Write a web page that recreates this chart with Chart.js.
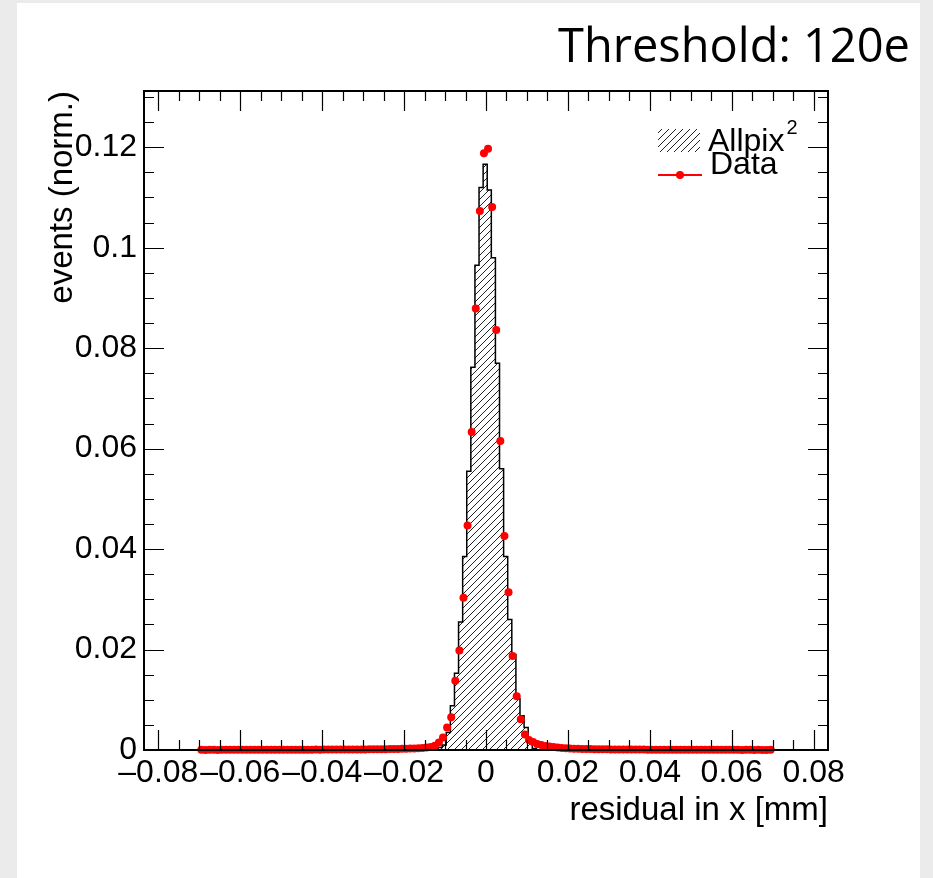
<!DOCTYPE html>
<html lang="en">
<head>
<meta charset="UTF-8">
<title>Residual in x - Threshold 120e</title>
<script src="https://cdn.jsdelivr.net/npm/chart.js"></script>
<style>
  html, body { margin: 0; padding: 0; background: #ebebeb; }
  #panel { position: absolute; left: 17px; top: 3px; width: 903px; height: 875px; background: #fff; }
  #plot { position: absolute; left: 0; top: 0; }
</style>
</head>
<body>
<div id="panel"></div>
<canvas id="plot" width="933" height="878"></canvas>
<script>
// axis ranges and ticks
var xMin = -0.0835, xMax = 0.0835;
var yMin = 0, yMax = 0.1312;
var xTickValues = [-0.08, -0.06, -0.04, -0.02, 0, 0.02, 0.04, 0.06, 0.08];
var xTickLabels = ['\u20130.08', '\u20130.06', '\u20130.04', '\u20130.02', '0', '0.02', '0.04', '0.06', '0.08'];
var yTickValues = [0, 0.02, 0.04, 0.06, 0.08, 0.1, 0.12];
var yTickLabels = ['0', '0.02', '0.04', '0.06', '0.08', '0.1', '0.12'];
var minorStep = 0.005;

// measured data, bins of 0.001 mm from -0.07 to 0.07
var dataLow = -0.07, dataBin = 0.001;
var dataValues = [
  0.00003, 0.00002, 0.00003, 0.00004, 0.00002, 0.00003, 0.00004, 0.00003, 0.00005, 0.00003,
  0.00004, 0.00004, 0.00003, 0.00005, 0.00004, 0.00004, 0.00005, 0.00004, 0.00006, 0.00005,
  0.00005, 0.00006, 0.00005, 0.00006, 0.00007, 0.00006, 0.00007, 0.00006, 0.00008, 0.00007,
  0.00008, 0.00008, 0.00009, 0.00008, 0.0001, 0.00009, 0.0001, 0.00011, 0.0001, 0.00012,
  0.00012, 0.00013, 0.00014, 0.00015, 0.00016, 0.00017, 0.00019, 0.0002, 0.00022, 0.00024,
  0.00026, 0.00029, 0.00032, 0.00036, 0.00042, 0.0005, 0.00062, 0.00085,
  0.0015, 0.0025, 0.0045, 0.0065, 0.0138, 0.0198, 0.0303, 0.0447, 0.0633, 0.0879, 0.1073, 0.1188,
  0.1197, 0.1081, 0.0836, 0.0615, 0.0426, 0.0314, 0.0187, 0.0107, 0.0061, 0.0031, 0.0020, 0.0016,
  0.0012, 0.0010, 0.0008, 0.0007, 0.0006, 0.0005, 0.00042, 0.00036,
  0.0003, 0.00027, 0.00025, 0.00022, 0.0002, 0.00018, 0.00017, 0.00015, 0.00014, 0.00013,
  0.00012, 0.00011, 0.00011, 0.0001, 0.0001, 0.00009, 0.00009, 0.00008, 0.00008, 0.00007,
  0.00007, 0.00007, 0.00006, 0.00006, 0.00006, 0.00005, 0.00006, 0.00005, 0.00005, 0.00005,
  0.00004, 0.00005, 0.00004, 0.00004, 0.00003, 0.00004, 0.00004, 0.00003, 0.00003, 0.00004,
  0.00003, 0.00003, 0.00002, 0.00003, 0.00003, 0.00002, 0.00003, 0.00002, 0.00002, 0.00003
];

// Allpix2 simulation, bins of 0.001 mm starting at -0.0127
var simLow = -0.0127, simBin = 0.001;
var simValues = [
  0.0003, 0.0005, 0.0010, 0.0035, 0.0088, 0.0153, 0.0255, 0.0385, 0.0555, 0.0762, 0.0965, 0.1120,
  0.1166,
  0.1115, 0.0980, 0.0770, 0.0560, 0.0385, 0.0260, 0.0190, 0.0102, 0.0068, 0.0045, 0.0018, 0.0003
];

function hatchPattern(ctx) {
  var c = document.createElement('canvas');
  c.width = 7; c.height = 7;
  var g = c.getContext('2d');
  g.strokeStyle = '#222';
  g.lineWidth = 1;
  g.beginPath();
  g.moveTo(-1, 8); g.lineTo(8, -1);
  g.moveTo(-1, 1); g.lineTo(1, -1);
  g.moveTo(6, 8); g.lineTo(8, 6);
  g.stroke();
  return ctx.createPattern(c, 'repeat');
}

var dataPoints = dataValues.map(function (v, i) {
  return { x: dataLow + (i + 0.5) * dataBin, y: v };
});

var simPoints = [{ x: xMin, y: 0 }, { x: simLow, y: 0 }];
simValues.forEach(function (v, i) {
  simPoints.push({ x: simLow + i * simBin, y: v });
});
simPoints.push({ x: simLow + simValues.length * simBin, y: 0 });
simPoints.push({ x: xMax, y: 0 });

// ROOT style frame: inner ticks on all four sides, legend, title
var rootFrame = {
  id: 'rootFrame',
  afterDatasetsDraw: function (chart) {
    var ctx = chart.ctx, a = chart.chartArea;
    var xs = chart.scales.x, ys = chart.scales.y;
    ctx.save();
    ctx.strokeStyle = '#000';
    ctx.lineWidth = 1.2;
    ctx.beginPath();
    var k, v, p, len;
    for (k = Math.ceil(xMin / minorStep); k * minorStep <= xMax; k++) {
      v = k * minorStep;
      len = (k % 4 === 0) ? 20 : 10;
      p = Math.round(xs.getPixelForValue(v)) + 0.5;
      ctx.moveTo(p, a.bottom); ctx.lineTo(p, a.bottom - len);
      ctx.moveTo(p, a.top); ctx.lineTo(p, a.top + len);
    }
    for (k = 0; k * minorStep <= yMax; k++) {
      v = k * minorStep;
      len = (k % 4 === 0) ? 20 : 10;
      p = Math.round(ys.getPixelForValue(v)) + 0.5;
      ctx.moveTo(a.left, p); ctx.lineTo(a.left + len, p);
      ctx.moveTo(a.right, p); ctx.lineTo(a.right - len, p);
    }
    ctx.stroke();
    ctx.lineWidth = 2;
    ctx.strokeRect(a.left, a.top, a.right - a.left, a.bottom - a.top);

    // legend
    ctx.fillStyle = chart.data.datasets[1].backgroundColor;
    ctx.fillRect(658, 129, 42, 23);
    ctx.fillStyle = '#000';
    ctx.textBaseline = 'alphabetic';
    ctx.textAlign = 'left';
    ctx.font = '32px "Liberation Sans", Arial, sans-serif';
    ctx.fillText('Allpix', 708, 151);
    var w = ctx.measureText('Allpix').width;
    ctx.font = '20px "Liberation Sans", Arial, sans-serif';
    ctx.fillText('2', 708 + w + 2, 134);
    ctx.font = '32px "Liberation Sans", Arial, sans-serif';
    ctx.fillText('Data', 710, 174);
    ctx.strokeStyle = '#ff0000';
    ctx.lineWidth = 2;
    ctx.beginPath();
    ctx.moveTo(658, 175); ctx.lineTo(702, 175);
    ctx.stroke();
    ctx.fillStyle = '#ff0000';
    ctx.beginPath();
    ctx.arc(680, 175, 4, 0, Math.PI * 2);
    ctx.fill();

    // title
    ctx.fillStyle = '#000';
    ctx.textAlign = 'right';
    ctx.font = '47px "Open Sans", sans-serif';
    ctx.fillText('Threshold: 120e', 910, 62);
    ctx.restore();
  }
};

Chart.defaults.font.family = '"Liberation Sans", Arial, sans-serif';
Chart.defaults.color = '#000';

var ctx = document.getElementById('plot').getContext('2d');
var chart = new Chart(ctx, {
  type: 'scatter',
  data: {
    datasets: [{
      label: 'Data',
      data: dataPoints,
      order: 0,
      pointRadius: 4,
      pointBackgroundColor: '#ff0000',
      pointBorderWidth: 0,
      showLine: false,
      clip: false
    }, {
      label: 'Allpix2',
      data: simPoints,
      order: 1,
      showLine: true,
      stepped: 'before',
      pointRadius: 0,
      borderColor: '#000',
      borderWidth: 1.5,
      fill: 'origin',
      backgroundColor: hatchPattern(ctx)
    }]
  },
  options: {
    responsive: false,
    animation: false,
    devicePixelRatio: 1,
    layout: { padding: { left: 0, top: 91, right: 105, bottom: 0 } },
    plugins: { legend: { display: false }, tooltip: { enabled: false } },
    events: [],
    scales: {
      x: {
        type: 'linear',
        min: xMin,
        max: xMax,
        afterBuildTicks: function (s) { s.ticks = xTickValues.map(function (v) { return { value: v }; }); },
        afterFit: function (s) { s.height = 128; },
        grid: { display: false, drawTicks: false },
        border: { display: false },
        ticks: {
          autoSkip: false, maxRotation: 0, minRotation: 0, padding: 4,
          font: { size: 32 },
          callback: function (v, i) { return xTickLabels[i]; }
        },
        title: {
          display: true, text: 'residual in x [mm]', align: 'end',
          font: { size: 33 }, padding: { top: 0, bottom: 47 }
        }
      },
      y: {
        type: 'linear',
        min: yMin,
        max: yMax,
        afterBuildTicks: function (s) { s.ticks = yTickValues.map(function (v) { return { value: v }; }); },
        afterFit: function (s) { s.width = 144; },
        grid: { display: false, drawTicks: false },
        border: { display: false },
        ticks: {
          autoSkip: false, padding: 7,
          font: { size: 32 },
          callback: function (v, i) { return yTickLabels[i]; }
        },
        title: {
          display: true, text: 'events (norm.)', align: 'end',
          font: { size: 33 }, padding: { top: 43, bottom: 0 }
        }
      }
    }
  },
  plugins: [rootFrame]
});
</script>
</body>
</html>
